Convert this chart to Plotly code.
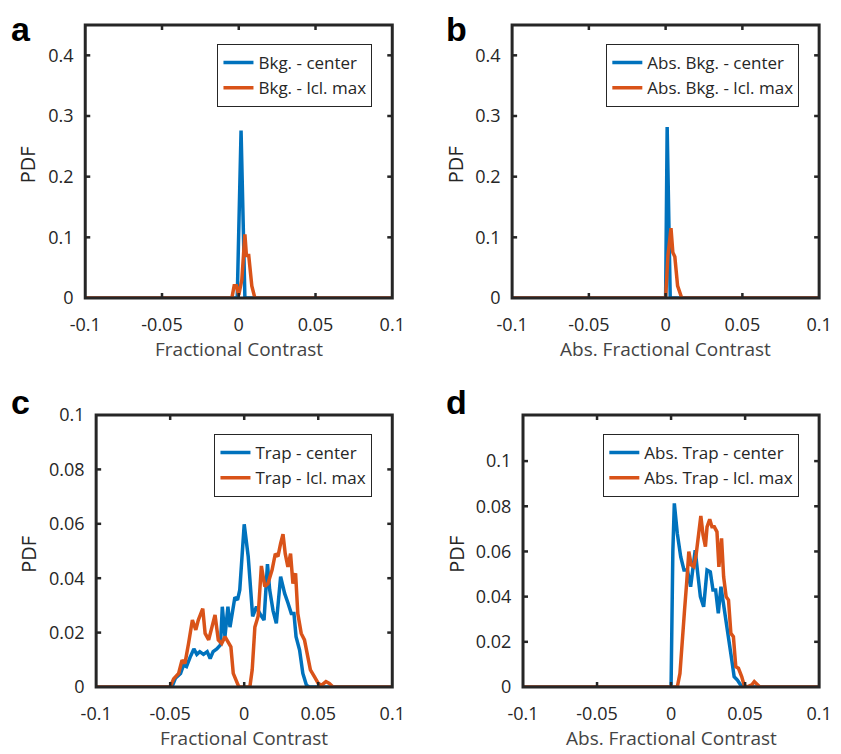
import plotly.graph_objects as go

# ---------------- data ----------------
# Panel a
a_center_x = [-0.1, -0.001, 0.0015, 0.004, 0.1]
a_center_y = [0, 0, 0.276, 0, 0]
a_lcl_x = [-0.1, -0.0045, -0.003, -0.0015, 0.0, 0.002, 0.004, 0.005, 0.0065, 0.0085, 0.0105, 0.1]
a_lcl_y = [0, 0, 0.02, 0.02, 0.005, 0.03, 0.105, 0.07, 0.07, 0.02, 0, 0]

# Panel b
b_center_x = [-0.1, 0.0, 0.001, 0.003, 0.1]
b_center_y = [0, 0, 0.282, 0, 0]
b_lcl_x = [-0.1, 0.0, 0.0015, 0.0035, 0.0047, 0.006, 0.0078, 0.0105, 0.1]
b_lcl_y = [0, 0, 0.07, 0.115, 0.075, 0.068, 0.02, 0, 0]

# Panel c
c_center_x = [-0.1, -0.0488, -0.0465, -0.043, -0.041, -0.039, -0.0365, -0.034, -0.032, -0.030,
              -0.0275, -0.025, -0.023, -0.021, -0.0185, -0.016, -0.0148, -0.013, -0.011, -0.0096,
              -0.0078, -0.0063, -0.0045, -0.003, 0.0, 0.0027, 0.0057, 0.0083, 0.0105, 0.0134,
              0.0157, 0.0172, 0.0195, 0.0217, 0.0246, 0.0273, 0.0295, 0.0318, 0.0336, 0.035,
              0.0374, 0.0396, 0.042, 0.044, 0.1]
c_center_y = [0, 0, 0.0032, 0.005, 0.008, 0.0075, 0.011, 0.014, 0.012, 0.013,
              0.012, 0.013, 0.0105, 0.013, 0.014, 0.0155, 0.0295, 0.0185, 0.0295, 0.022,
              0.028, 0.033, 0.032, 0.0357, 0.0598, 0.048, 0.026, 0.0295, 0.027, 0.0246,
              0.0452, 0.0357, 0.028, 0.0234, 0.0406, 0.0344, 0.031, 0.027, 0.027, 0.0185,
              0.0136, 0.005, 0.0007, 0, 0]
c_lcl_x = [-0.1, -0.05, -0.0477, -0.0443, -0.042, -0.040, -0.0376, -0.035, -0.0327, -0.031,
           -0.028, -0.0264, -0.024, -0.0224, -0.0197, -0.0175, -0.0152, -0.013, -0.0107, -0.009,
           -0.0074, -0.005, -0.0036, 0.0038, 0.0054, 0.0072, 0.0094, 0.0116, 0.0139, 0.016,
           0.0188, 0.021, 0.0228, 0.0246, 0.0262, 0.0277, 0.0295, 0.0313, 0.0329, 0.0347,
           0.0362, 0.0385, 0.0407, 0.043, 0.0447, 0.0474, 0.05, 0.0523, 0.0552, 0.0575,
           0.06, 0.1]
c_lcl_y = [0, 0, 0.003, 0.005, 0.0099, 0.0087, 0.016, 0.0246, 0.021, 0.0246,
           0.0288, 0.0197, 0.0173, 0.021, 0.0265, 0.0173, 0.016, 0.0185, 0.016, 0.0148,
           0.005, 0.002, 0, 0, 0.0063, 0.022, 0.026, 0.0445, 0.037, 0.038,
           0.043, 0.049, 0.048, 0.0528, 0.0562, 0.049, 0.0442, 0.049, 0.038, 0.0418,
           0.027, 0.0197, 0.0173, 0.011, 0.0063, 0.0038, 0.0013, 0.0007, 0.002, 0.0013,
           0, 0]

# Panel d
d_center_x = [-0.1, 0.0, 0.0012, 0.0022, 0.0042, 0.0065, 0.0087, 0.011, 0.0132, 0.0147,
              0.0163, 0.018, 0.0198, 0.022, 0.0243, 0.0265, 0.0283, 0.0301, 0.0319, 0.0337,
              0.0355, 0.0372, 0.039, 0.041, 0.0426, 0.0448, 0.047, 0.0488, 0.1]
d_center_y = [0, 0, 0.06, 0.0813, 0.068, 0.0577, 0.0518, 0.0518, 0.0444, 0.0532,
              0.0606, 0.0503, 0.04, 0.0355, 0.0518, 0.051, 0.0429, 0.0429, 0.0326, 0.0444,
              0.0355, 0.0282, 0.0208, 0.012, 0.0046, 0.0031, 0.0009, 0, 0]
d_lcl_x = [-0.1, 0.0042, 0.006, 0.0076, 0.0091, 0.0105, 0.012, 0.0136, 0.0154, 0.0169,
           0.0185, 0.0201, 0.0216, 0.0232, 0.0243, 0.0261, 0.0276, 0.0292, 0.031, 0.0323,
           0.0341, 0.0355, 0.0372, 0.0388, 0.0404, 0.0421, 0.0437, 0.0455, 0.0477, 0.0493,
           0.051, 0.0544, 0.0562, 0.0582, 0.06, 0.1]
d_lcl_y = [0, 0, 0.006, 0.0237, 0.034, 0.0459, 0.0599, 0.054, 0.0532, 0.0584,
           0.068, 0.0757, 0.0673, 0.0621, 0.0709, 0.0742, 0.0709, 0.0709, 0.0687, 0.0532,
           0.0658, 0.0488, 0.04, 0.0385, 0.0237, 0.0223, 0.009, 0.0083, 0.0046, 0.0009,
           0, 0.0009, 0.0024, 0.0009, 0, 0]

x_tickvals = [-0.1, -0.05, 0, 0.05, 0.1]
x_ticktext = ["-0.1", "-0.05", "0", "0.05", "0.1"]
ab_yticks = [0, 0.1, 0.2, 0.3, 0.4]
ab_ytext = ["0", "0.1", "0.2", "0.3", "0.4"]
cd_yticks = [0, 0.02, 0.04, 0.06, 0.08, 0.1]
cd_ytext = ["0", "0.02", "0.04", "0.06", "0.08", "0.1"]

names = {
    "a": ["Bkg. - center", "Bkg. - lcl. max"],
    "b": ["Abs. Bkg. - center", "Abs. Bkg. - lcl. max"],
    "c": ["Trap - center", "Trap - lcl. max"],
    "d": ["Abs. Trap - center", "Abs. Trap - lcl. max"],
}
xtitles = {"a": "Fractional Contrast", "b": "Abs. Fractional Contrast",
           "c": "Fractional Contrast", "d": "Abs. Fractional Contrast"}

# ---------------- layout geometry (reference pixels) ----------------
OFF = 8                  # page body margin
REF_W, REF_H = 833, 746  # reference content area after the body margin
W, H = 825, 746          # figure size that fits inside the page body
FONT = "Open Sans"
AX = "#262626"
BLUE = "#0072BD"
ORANGE = "#D95319"
LW = 3.5

panels = {
    "a": dict(l=86, r=396, t=25, b=298, lr=376, lt=44, yr=[0, 0.45], yt=ab_yticks, ytt=ab_ytext,
              data=(a_center_x, a_center_y, a_lcl_x, a_lcl_y)),
    "b": dict(l=517, r=827, t=25, b=298, lr=807, lt=44, yr=[0, 0.45], yt=ab_yticks, ytt=ab_ytext,
              data=(b_center_x, b_center_y, b_lcl_x, b_lcl_y)),
    "c": dict(l=97, r=396, t=415, b=687, lr=376, lt=434, yr=[0, 0.1], yt=cd_yticks, ytt=cd_ytext,
              data=(c_center_x, c_center_y, c_lcl_x, c_lcl_y)),
    "d": dict(l=528, r=827, t=415, b=687, lr=807, lt=434, yr=[0, 0.1204], yt=cd_yticks, ytt=cd_ytext,
              data=(d_center_x, d_center_y, d_lcl_x, d_lcl_y)),
}

def px(x):
    return (x - OFF) / REF_W

def py(y):
    return 1 - (y - OFF) / REF_H

def axis_style(vals, texts, pad):
    # invisible outside ticks only set the label distance; frame and inside ticks are shapes
    return dict(showline=False, tickvals=vals, ticktext=texts,
                ticks="outside", ticklen=pad, tickwidth=1, tickcolor="rgba(0,0,0,0)",
                showgrid=False, zeroline=False, automargin=False,
                tickfont=dict(family=FONT, size=18, color=AX))

fig = go.Figure()
annotations = []
shapes = []

for i, key in enumerate(["a", "b", "c", "d"]):
    p = panels[key]
    n = "" if i == 0 else str(i + 1)
    xa, ya = "x" + n, "y" + n
    leg = "legend" + n
    cx, cy, lx, ly = p["data"]
    fig.add_trace(go.Scatter(x=cx, y=cy, mode="lines", name=names[key][0],
                             line=dict(color=BLUE, width=LW), xaxis=xa, yaxis=ya, legend=leg))
    fig.add_trace(go.Scatter(x=lx, y=ly, mode="lines", name=names[key][1],
                             line=dict(color=ORANGE, width=LW), xaxis=xa, yaxis=ya, legend=leg))
    fig.update_layout(**{
        "xaxis" + n: dict(domain=[px(p["l"]), px(p["r"])], range=[-0.1, 0.1], anchor=ya,
                          **axis_style(x_tickvals, x_ticktext, 10)),
        "yaxis" + n: dict(domain=[py(p["b"]), py(p["t"])], range=p["yr"], anchor=xa,
                          **axis_style(p["yt"], p["ytt"], 7)),
        leg: dict(x=px(p["lr"]), y=py(p["lt"]), xanchor="right", yanchor="top",
                  bgcolor="white", bordercolor=AX, borderwidth=1,
                  font=dict(family=FONT, size=17, color=AX), tracegroupgap=0,
                  itemwidth=30),
    })
    # box frame (MATLAB style)
    shapes.append(dict(type="rect", xref=xa + " domain", yref=ya + " domain", x0=0, x1=1, y0=0, y1=1,
                       line=dict(color=AX, width=3), fillcolor="rgba(0,0,0,0)", layer="above"))
    # inside ticks on all four sides
    for v in x_tickvals[1:-1]:
        for anc, d in ((0, 5), (1, -5)):
            shapes.append(dict(type="line", xref=xa, yref=ya + " domain", x0=v, x1=v,
                               ysizemode="pixel", yanchor=anc, y0=0, y1=d,
                               line=dict(color=AX, width=2.5), layer="above"))
    for v in p["yt"]:
        if v <= p["yr"][0] or v >= p["yr"][1]:
            continue
        for anc, d in ((0, 5), (1, -5)):
            shapes.append(dict(type="line", xref=xa + " domain", yref=ya, y0=v, y1=v,
                               xsizemode="pixel", xanchor=anc, x0=0, x1=d,
                               line=dict(color=AX, width=2.5), layer="above"))
    annotations.append(dict(text=xtitles[key], x=px((p["l"] + p["r"]) / 2), y=py(p["b"] + 51),
                            xref="paper", yref="paper", showarrow=False, xanchor="center",
                            yanchor="middle", font=dict(family=FONT, size=19, color="#444444")))
    pdf_x = 28 if key in ("a", "c") else 460
    annotations.append(dict(text="PDF", x=px(pdf_x), y=py((p["t"] + p["b"]) / 2 + 3),
                            xref="paper", yref="paper", showarrow=False, xanchor="center",
                            yanchor="middle", textangle=-90,
                            font=dict(family=FONT, size=20, color=AX)))

# panel letters
letter_x = {"a": 21, "b": 461, "c": 21, "d": 461}
for key in ["a", "b"]:
    annotations.append(dict(text="<b>%s</b>" % key, x=px(letter_x[key]), y=1, xref="paper", yref="paper",
                            showarrow=False, xanchor="center", yanchor="top",
                            font=dict(family="Liberation Sans", size=34, color="black")))
for key in ["c", "d"]:
    annotations.append(dict(text="<b>%s</b>" % key, x=px(letter_x[key]), y=py(402), xref="paper",
                            yref="paper", showarrow=False, xanchor="center", yanchor="middle",
                            font=dict(family="Liberation Sans", size=34, color="black")))

fig.update_layout(width=W, height=H, margin=dict(l=0, r=0, t=0, b=0, autoexpand=False),
                  paper_bgcolor="white", plot_bgcolor="white", showlegend=True,
                  annotations=annotations, shapes=shapes, hovermode=False)

fig.write_html("out.html")
